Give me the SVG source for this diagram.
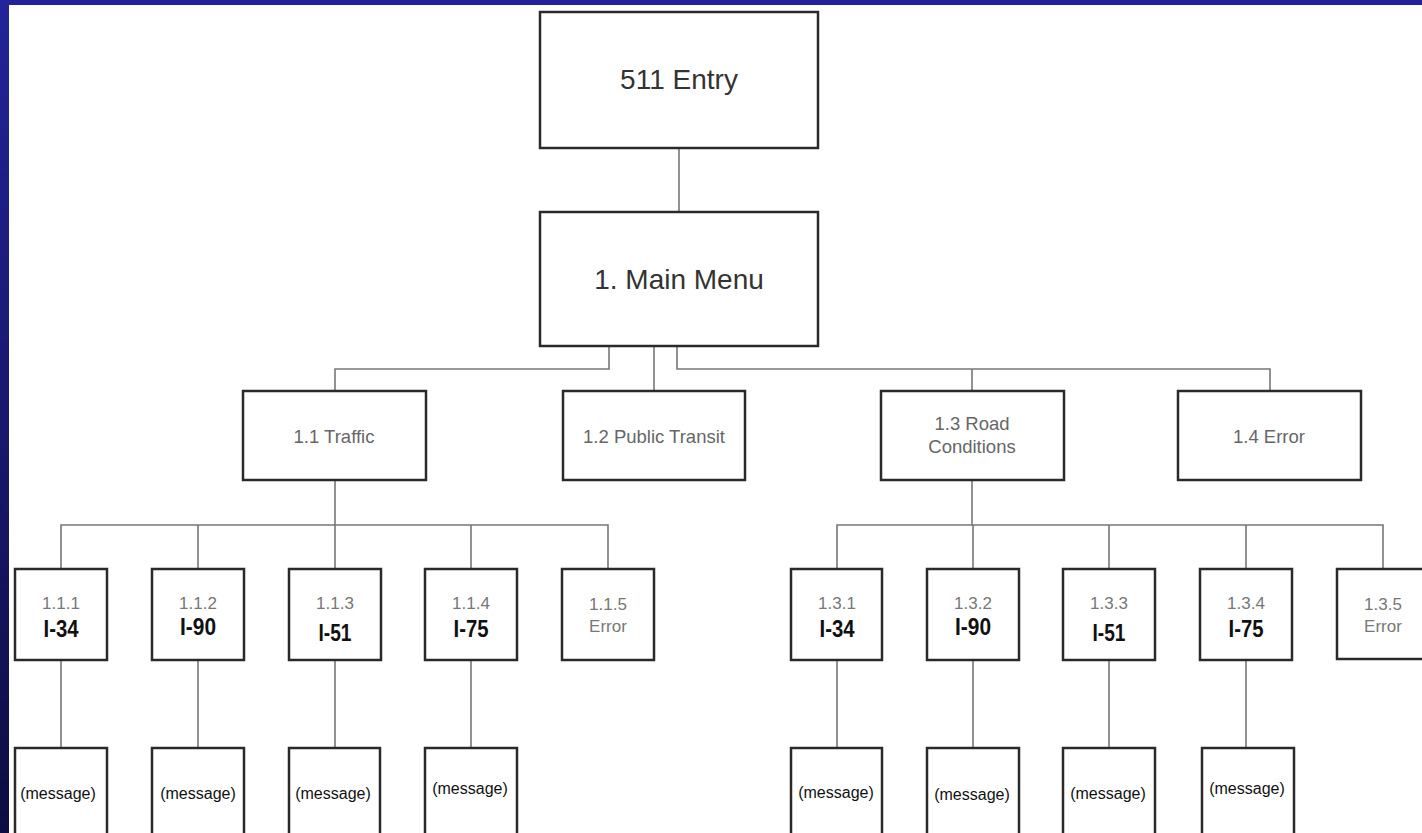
<svg xmlns="http://www.w3.org/2000/svg" width="1422" height="833" viewBox="0 0 1422 833">
<defs>
<linearGradient id="side" x1="0" y1="0" x2="0" y2="1">
<stop offset="0" stop-color="#23239b"/>
<stop offset="1" stop-color="#0d0d42"/>
</linearGradient>
<style>
.box{fill:#fff;stroke:#2a2a2a;stroke-width:2.5}
.conn{fill:none;stroke:#777;stroke-width:1.6}
.big{font-family:"Liberation Sans",Arial,sans-serif;font-size:28px;fill:#333;text-anchor:middle}
.mid{font-family:"Liberation Sans",Arial,sans-serif;font-size:18.5px;fill:#666;text-anchor:middle}
.num{font-family:"Liberation Sans",Arial,sans-serif;font-size:17px;fill:#777;text-anchor:middle}
.hw{font-family:"Liberation Sans Narrow","Liberation Sans",Arial,sans-serif;font-size:23px;font-weight:bold;fill:#111;text-anchor:middle}
.msg{font-family:"Liberation Sans",Arial,sans-serif;font-size:16px;fill:#111;text-anchor:middle}
</style>
</defs>
<rect x="0" y="0" width="1422" height="833" fill="#fff"/>
<rect x="0" y="0" width="1422" height="5" fill="#22229a"/>
<rect x="0" y="0" width="9" height="833" fill="url(#side)"/>

<g id="connectors">
<path class="conn" d="M679 148V212"/>
<path class="conn" d="M609 346V369H335V391"/>
<path class="conn" d="M654 346V391"/>
<path class="conn" d="M677 346V369H1270V391"/>
<path class="conn" d="M972 369V391"/>
<path class="conn" d="M335 480V525"/>
<path class="conn" d="M61 569V525H608V569"/>
<path class="conn" d="M198 525V569"/>
<path class="conn" d="M335 525V569"/>
<path class="conn" d="M471 525V569"/>
<path class="conn" d="M972 480V525"/>
<path class="conn" d="M837 569V525H1383V569"/>
<path class="conn" d="M973 525V569"/>
<path class="conn" d="M1109 525V569"/>
<path class="conn" d="M1246 525V569"/>
<path class="conn" d="M61 660V748"/>
<path class="conn" d="M198 660V748"/>
<path class="conn" d="M335 660V748"/>
<path class="conn" d="M471 660V748"/>
<path class="conn" d="M837 660V748"/>
<path class="conn" d="M973 660V748"/>
<path class="conn" d="M1109 660V748"/>
<path class="conn" d="M1246 660V748"/>
</g>

<g id="entry"><rect class="box" x="540" y="12" width="278" height="136"/><text class="big" x="679" y="89">511 Entry</text></g>
<g id="main"><rect class="box" x="540" y="212" width="278" height="134"/><text class="big" x="679" y="289">1. Main Menu</text></g>

<g id="n1-1"><rect class="box" x="243" y="391" width="183" height="89"/><text class="mid" x="334" y="443">1.1 Traffic</text></g>
<g id="n1-2"><rect class="box" x="563" y="391" width="182" height="89"/><text class="mid" x="654" y="443">1.2 Public Transit</text></g>
<g id="n1-3"><rect class="box" x="881" y="391" width="183" height="89"/><text class="mid" x="972" y="430">1.3 Road</text><text class="mid" x="972" y="453">Conditions</text></g>
<g id="n1-4"><rect class="box" x="1178" y="391" width="183" height="89"/><text class="mid" x="1269" y="443">1.4 Error</text></g>

<g id="n1-1-1"><rect class="box" x="15" y="569" width="92" height="91"/><text class="num" x="61" y="609">1.1.1</text><text class="hw" x="61" y="637" textLength="35" lengthAdjust="spacingAndGlyphs">I-34</text></g>
<g id="n1-1-2"><rect class="box" x="152" y="569" width="92" height="91"/><text class="num" x="198" y="609">1.1.2</text><text class="hw" x="198" y="635" textLength="36" lengthAdjust="spacingAndGlyphs">I-90</text></g>
<g id="n1-1-3"><rect class="box" x="289" y="569" width="92" height="91"/><text class="num" x="335" y="609">1.1.3</text><text class="hw" x="335" y="641" textLength="33" lengthAdjust="spacingAndGlyphs">I-51</text></g>
<g id="n1-1-4"><rect class="box" x="425" y="569" width="92" height="91"/><text class="num" x="471" y="609">1.1.4</text><text class="hw" x="471" y="637" textLength="35" lengthAdjust="spacingAndGlyphs">I-75</text></g>
<g id="n1-1-5"><rect class="box" x="562" y="569" width="92" height="91"/><text class="num" x="608" y="610">1.1.5</text><text class="num" x="608" y="632">Error</text></g>

<g id="n1-3-1"><rect class="box" x="791" y="569" width="91" height="91"/><text class="num" x="837" y="609">1.3.1</text><text class="hw" x="837" y="637" textLength="35" lengthAdjust="spacingAndGlyphs">I-34</text></g>
<g id="n1-3-2"><rect class="box" x="927" y="569" width="92" height="91"/><text class="num" x="973" y="609">1.3.2</text><text class="hw" x="973" y="635" textLength="36" lengthAdjust="spacingAndGlyphs">I-90</text></g>
<g id="n1-3-3"><rect class="box" x="1063" y="569" width="92" height="91"/><text class="num" x="1109" y="609">1.3.3</text><text class="hw" x="1109" y="641" textLength="33" lengthAdjust="spacingAndGlyphs">I-51</text></g>
<g id="n1-3-4"><rect class="box" x="1200" y="569" width="92" height="91"/><text class="num" x="1246" y="609">1.3.4</text><text class="hw" x="1246" y="637" textLength="35" lengthAdjust="spacingAndGlyphs">I-75</text></g>
<g id="n1-3-5"><rect class="box" x="1337" y="569" width="92" height="90"/><text class="num" x="1383" y="610">1.3.5</text><text class="num" x="1383" y="632">Error</text></g>

<g id="m1"><rect class="box" x="15" y="748" width="92" height="100"/><text class="msg" x="58" y="799">(message)</text></g>
<g id="m2"><rect class="box" x="152" y="748" width="92" height="100"/><text class="msg" x="198" y="799">(message)</text></g>
<g id="m3"><rect class="box" x="289" y="748" width="91" height="100"/><text class="msg" x="333" y="799">(message)</text></g>
<g id="m4"><rect class="box" x="425" y="748" width="92" height="100"/><text class="msg" x="470" y="794">(message)</text></g>
<g id="m5"><rect class="box" x="791" y="748" width="91" height="100"/><text class="msg" x="836" y="798">(message)</text></g>
<g id="m6"><rect class="box" x="927" y="748" width="92" height="100"/><text class="msg" x="972" y="800">(message)</text></g>
<g id="m7"><rect class="box" x="1063" y="748" width="92" height="100"/><text class="msg" x="1108" y="799">(message)</text></g>
<g id="m8"><rect class="box" x="1202" y="748" width="92" height="100"/><text class="msg" x="1247" y="794">(message)</text></g>
</svg>
